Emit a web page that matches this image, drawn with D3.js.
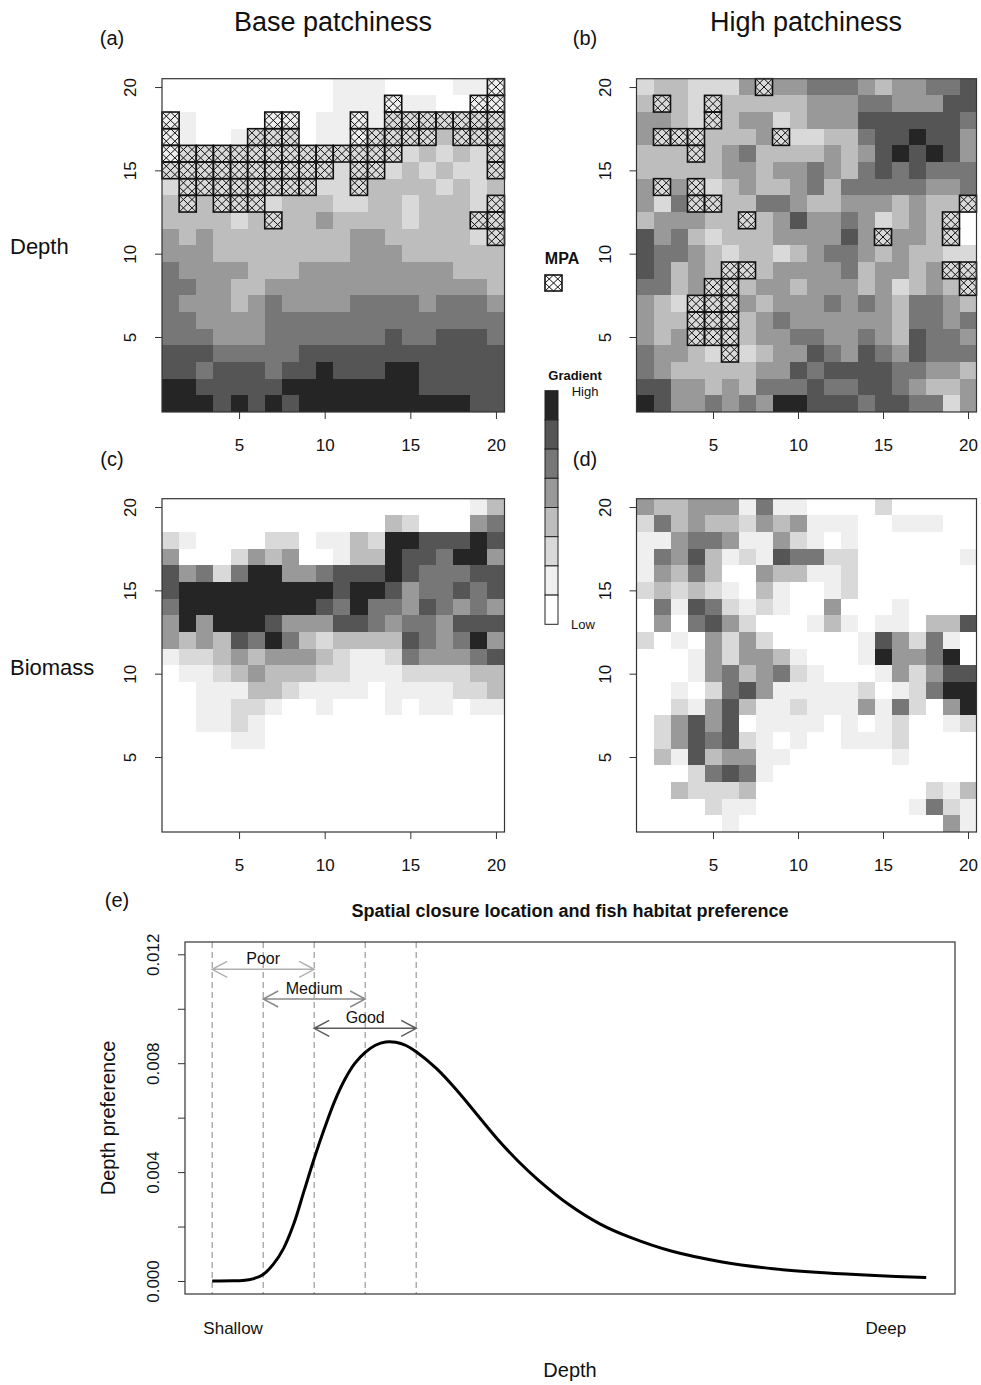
<!DOCTYPE html>
<html><head><meta charset="utf-8">
<script src="https://cdn.jsdelivr.net/npm/d3@7"></script>
<style>body{margin:0;background:#fff;} text{font-family:"Liberation Sans",Arial,Helvetica,sans-serif;fill:#111;}</style>
</head><body><svg id="c" width="981" height="1385"></svg>
<script>
// ---------- DATA ----------
const grayLevels = ["#ffffff","#efefef","#d9d9d9","#bdbdbd","#999999","#777777","#555555","#252525"];
const gridTicks = [5,10,15,20];
// rows listed from y=20 (top) down to y=1; each digit = gradient class 0 (low) .. 7 (high), x = 1..20
const depthBase = [
"00000000001110000111","00000000001111110011","11000011011112222222","11001222011122223222",
"12222222222222232322","22222222222222323222","22222222222233332323","32322223332233233322",
"33332323343333233322","43433333333443333322","44433333333444333333","54444333444444444333",
"55443344444444444443","54443454444555545554","55444455555555555555","55544455555556556665",
"66655555666666666666","66566656676667766666","77666667777777766666","77767676777777777766"];
const depthHigh = [
"23322242445554344556","32322333334445544466","44322344234446666665","42223334222335667664",
"33323453333434676764","33333443445435656555","42422343345355555445","42522335543344434332",
"34443323464454234320","64532333444464244320","65543233234554343322","65343223444453443422",
"55342234434443423432","43222243444545435543","43322234544444435545","43422234455445436554",
"54432223446546546555","54333334465666655443","66443435556556654334","76445454776665665524"];
const biomassBase = [
"00000000000000000013","00000000000003200045","21000022011327766676","40002434001337665774",
"64525774456667655566","67777777776776455656","57777777765755465454","47477764446654554666",
"43436575323333654574","12234344432112544456","01123433322111222233","00111332111101111223",
"00112210010001011011","00112100000000000000","00001100000000000000","00000000000000000000",
"00000000000000000000","00000000000000000000","00000000000000000000","00000000000000000000"];
const biomassHigh = [
"43344415110000200000","25343324341110011100","11455411421010000000","15463121655220000001",
"14353004331120000000","23232103100120000000","05165212100400010000","04056420001310110336",
"20104242000001642510","00014244310001744570","00014534521000142466","00102564111112012577",
"00214631121114152047","02464601111010120012","02465621010011120000","03163441100000010000",
"00025651000000000000","00322230000000000213","00002110000000001521","00000100000000000041"];
// MPA (closed) cells [x, y]
const mpaBase = [[20,20],[14,19],[19,19],[20,19],
 [1,18],[7,18],[8,18],[12,18],[14,18],[15,18],[16,18],[17,18],[18,18],[19,18],[20,18],
 [1,17],[6,17],[7,17],[8,17],[12,17],[13,17],[14,17],[15,17],[16,17],[18,17],[19,17],[20,17],
 [1,16],[2,16],[3,16],[4,16],[5,16],[6,16],[7,16],[8,16],[9,16],[10,16],[11,16],[12,16],[13,16],[14,16],[20,16],
 [1,15],[2,15],[3,15],[4,15],[5,15],[6,15],[7,15],[8,15],[9,15],[10,15],[12,15],[13,15],[20,15],
 [2,14],[3,14],[4,14],[5,14],[6,14],[7,14],[8,14],[9,14],[12,14],
 [2,13],[4,13],[5,13],[6,13],[20,13],[7,12],[19,12],[20,12],[20,11]];
const mpaHigh = [[8,20],[2,19],[5,19],[5,18],[2,17],[3,17],[4,17],[9,17],[4,16],[2,14],[4,14],
 [4,13],[5,13],[20,13],[7,12],[19,12],[15,11],[19,11],[6,9],[7,9],[19,9],[20,9],[5,8],[6,8],[20,8],
 [4,7],[5,7],[6,7],[4,6],[5,6],[6,6],[4,5],[5,5],[6,5],[6,4]];
// panel (e) depth preference curve
const depthX = [0,4,6,8,10,12,14,16,18,20,22,24,26,28,30,32,34,36,38,40,44,48,52,56,60,64,70,76,82,90,100,110,120,130,140];
const prefY  = [0,0.000005,0.00002,0.00008,0.00024,0.00062,0.0012,0.0021,0.0033,0.0045,0.0056,0.0066,0.0074,0.0080,0.0084,0.00866,0.00878,0.00877,0.00865,0.00842,0.0078,0.0070,0.0061,0.0052,0.0044,0.0037,0.0028,0.0021,0.0016,0.0011,0.0007,0.00045,0.0003,0.0002,0.00013];
const zoneBreaks = [0,10,20,30,40];
const zones = [{name:"Poor",from:0,to:20},{name:"Medium",from:10,to:30},{name:"Good",from:20,to:40}];
const prefTicks = [0,0.002,0.004,0.006,0.008,0.010,0.012];
const prefLabelled = [0,0.004,0.008,0.012];
const depthEnds = [{at:4,label:"Shallow"},{at:132,label:"Deep"}];

// ---------- DRAW ----------
const svg = d3.select("#c");
svg.append("rect").attr("width",981).attr("height",1385).attr("fill","#fff");

function hatchPath(x0,y0,x1,y1){
  const xm=(x0+x1)/2, ym=(y0+y1)/2;
  return `M${x0},${y0}L${x1},${y1}M${x1},${y0}L${x0},${y1}M${xm},${y0}L${x1},${ym}L${xm},${y1}L${x0},${ym}Z`;
}

function heat(rows, mpa, box){
  const g = svg.append("g");
  const x = d3.scaleLinear().domain([0.5,20.5]).range([box.L, box.R]);
  const y = d3.scaleLinear().domain([0.5,20.5]).range([box.B, box.T]);
  const cells = [];
  rows.forEach((s,i)=>{ const r=20-i; s.split("").forEach((ch,j)=>cells.push({c:j+1,r:r,v:+ch})); });
  g.selectAll(null).data(cells).join("rect")
    .attr("x",d=>x(d.c-0.5)).attr("y",d=>y(d.r+0.5))
    .attr("width",d=>x(d.c+0.5)-x(d.c-0.5)+0.4).attr("height",d=>y(d.r-0.5)-y(d.r+0.5)+0.4)
    .attr("fill",d=>grayLevels[d.v]).attr("shape-rendering","crispEdges");
  const m = g.selectAll(null).data(mpa).join("g");
  m.append("path").attr("d",d=>hatchPath(x(d[0]-0.5),y(d[1]+0.5),x(d[0]+0.5),y(d[1]-0.5)))
    .attr("fill","none").attr("stroke","#111").attr("stroke-width",1);
  m.append("rect").attr("x",d=>x(d[0]-0.5)).attr("y",d=>y(d[1]+0.5))
    .attr("width",d=>x(d[0]+0.5)-x(d[0]-0.5)).attr("height",d=>y(d[1]-0.5)-y(d[1]+0.5))
    .attr("fill","none").attr("stroke","#111").attr("stroke-width",1.6);
  g.append("rect").attr("x",box.L).attr("y",box.T).attr("width",box.R-box.L).attr("height",box.B-box.T)
    .attr("fill","none").attr("stroke","#333").attr("stroke-width",1.2);
  const ya = g.append("g").attr("transform",`translate(${box.L},0)`)
    .call(d3.axisLeft(y).tickValues(gridTicks).tickSize(7).tickFormat(d3.format("d")));
  const xa = g.append("g").attr("transform",`translate(0,${box.B})`)
    .call(d3.axisBottom(x).tickValues(gridTicks).tickSize(7).tickFormat(d3.format("d")));
  [ya,xa].forEach(a=>{a.select(".domain").remove(); a.selectAll("line").attr("stroke","#333");
    a.selectAll("text").attr("font-size",17).attr("fill","#222").attr("font-family","Liberation Sans, Arial, sans-serif");});
  ya.selectAll("text").attr("x",null).attr("dy",null).attr("text-anchor","middle")
    .attr("transform","translate(-26,0) rotate(-90)");
  xa.selectAll("text").attr("dy",null).attr("y",39);
}

heat(depthBase, mpaBase, {L:162, R:504.5, T:78.7, B:412});
heat(depthHigh, mpaHigh, {L:636.5, R:976.5, T:78.7, B:412});
heat(biomassBase, [], {L:162, R:504.5, T:498.7, B:832});
heat(biomassHigh, [], {L:636.5, R:976.5, T:498.7, B:832});

function txt(x,y,s,size,opts={}){
  const t = svg.append("text").attr("x",x).attr("y",y).text(s).attr("font-size",size)
    .attr("text-anchor",opts.anchor||"middle");
  if(opts.bold) t.attr("font-weight","bold");
  if(opts.rotate) t.attr("transform",`rotate(-90,${x},${y})`);
  if(opts.fill) t.style("fill",opts.fill);
  return t;
}
txt(333,31,"Base patchiness",27);
txt(806,31,"High patchiness",27);
txt(112,45,"(a)",20); txt(585,45,"(b)",20);
txt(112,466,"(c)",20); txt(585,466,"(d)",20);
txt(10,254,"Depth",22,{anchor:"start"});
txt(10,675,"Biomass",22,{anchor:"start"});

// MPA legend
txt(562,264,"MPA",16,{bold:true});
svg.append("path").attr("d",hatchPath(545,275,562,291)).attr("fill","none").attr("stroke","#111");
svg.append("rect").attr("x",545).attr("y",275).attr("width",17).attr("height",16).attr("fill","none").attr("stroke","#111").attr("stroke-width",1.6);

// gradient legend
txt(575,380,"Gradient",13,{bold:true});
txt(585,396,"High",13); txt(583,629,"Low",13);
const lg = d3.scaleBand().domain(d3.range(7,-1,-1)).range([390.7,624.3]);
svg.append("g").selectAll("rect").data(lg.domain()).join("rect")
  .attr("x",545).attr("y",d=>lg(d)).attr("width",13).attr("height",lg.bandwidth())
  .attr("fill",d=>grayLevels[d]).attr("stroke","#222").attr("stroke-width",1);

// ---------- panel (e) ----------
const E = {L:185,R:955,T:942,B:1294};
const xs = d3.scaleLinear().domain([0,140]).range([212.2,926.2]);
const ys = d3.scaleLinear().domain([0,0.012]).range([1281,954.3]);
const ge = svg.append("g");
ge.selectAll(null).data(zoneBreaks).join("line")
  .attr("x1",d=>xs(d)).attr("x2",d=>xs(d)).attr("y1",E.T).attr("y2",E.B)
  .attr("stroke","#999").attr("stroke-width",1.2).attr("stroke-dasharray","6,4");
ge.append("path").datum(depthX.map((d,i)=>[d,prefY[i]]))
  .attr("d",d3.line().x(d=>xs(d[0])).y(d=>ys(d[1])).curve(d3.curveCatmullRom.alpha(0.5)))
  .attr("fill","none").attr("stroke","#000").attr("stroke-width",3);
const arrowCol = ["#b0b0b0","#8a8a8a","#5a5a5a"];
const arrowY = [969.3,999,1028.3];
zones.forEach((z,i)=>{
  const a=xs(z.from), b=xs(z.to), yy=arrowY[i];
  ge.append("path").attr("d",`M${a},${yy}L${b},${yy}M${a+15},${yy-8}L${a},${yy}L${a+15},${yy+8}M${b-15},${yy-8}L${b},${yy}L${b-15},${yy+8}`)
    .attr("fill","none").attr("stroke",arrowCol[i]).attr("stroke-width",1.5);
  txt((a+b)/2, yy-5, z.name, 16);
});
ge.append("rect").attr("x",E.L).attr("y",E.T).attr("width",E.R-E.L).attr("height",E.B-E.T)
  .attr("fill","none").attr("stroke","#333").attr("stroke-width",1.2);
const ey = ge.append("g").attr("transform",`translate(${E.L},0)`)
  .call(d3.axisLeft(ys).tickValues(prefTicks).tickSize(7)
    .tickFormat(d=>prefLabelled.some(v=>Math.abs(v-d)<1e-9)?d3.format(".3f")(d):""));
ey.select(".domain").remove(); ey.selectAll("line").attr("stroke","#333");
ey.selectAll("text").attr("font-size",17).attr("fill","#222").attr("font-family","Liberation Sans, Arial, sans-serif")
  .attr("x",null).attr("dy",null).attr("text-anchor","middle").attr("transform","translate(-26,0) rotate(-90)");
const ex = ge.append("g").attr("transform",`translate(0,${E.B})`)
  .call(d3.axisBottom(xs).tickValues(depthEnds.map(d=>d.at)).tickSize(0)
    .tickFormat((d,i)=>depthEnds[i].label));
ex.select(".domain").remove();
ex.selectAll("text").attr("font-size",17).attr("fill","#222").attr("font-family","Liberation Sans, Arial, sans-serif")
  .attr("dy",null).attr("y",40);
txt(117,907,"(e)",20);
txt(570,917,"Spatial closure location and fish habitat preference",18,{bold:true});
txt(115,1118,"Depth preference",20,{rotate:true});
txt(570,1377,"Depth",20);
</script></body></html>
